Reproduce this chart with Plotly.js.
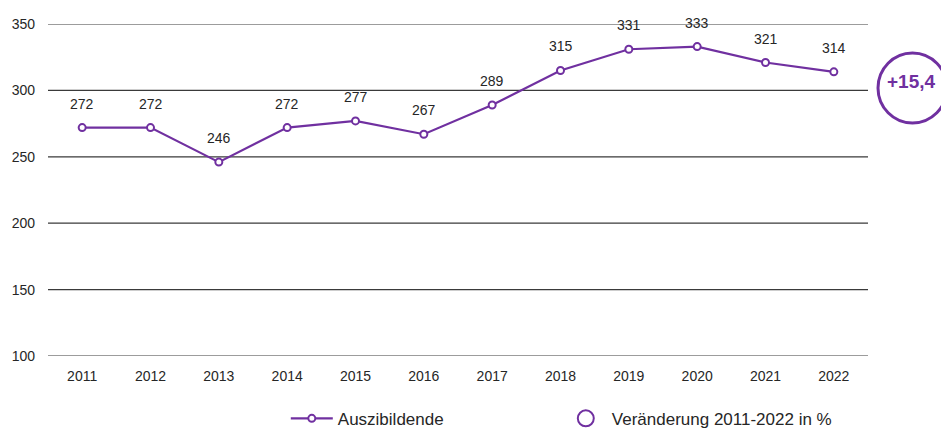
<!DOCTYPE html>
<html>
<head>
<meta charset="utf-8">
<script src="https://cdn.plot.ly/plotly-3.0.1.min.js"></script>
<style>html,body{margin:0;padding:0;background:#fff;}#chart{width:941px;height:430px;}</style>
</head>
<body>
<div id="chart"></div>
<script>
const years = ["2011","2012","2013","2014","2015","2016","2017","2018","2019","2020","2021","2022"];
const azubis = [272,272,246,272,277,267,289,315,331,333,321,314];
const changeLabel = "+15,4";
const seriesName = "Auszibildende";
const changeName = "Veränderung 2011-2022 in %";
const yTicks = [100,150,200,250,300,350];

const purple = "#7030a0";
const font = "'Liberation Sans Narrow', 'Arial Narrow', 'Liberation Sans', Arial, sans-serif";

const traces = [
  {
    x: years, y: azubis, type: "scatter", mode: "lines+markers", name: seriesName,
    line: {color: purple, width: 2.2},
    marker: {color: "#ffffff", size: 7, line: {color: purple, width: 2}},
    cliponaxis: false
  },
  {
    x: [null], y: [null], type: "scatter", mode: "markers", name: changeName,
    marker: {symbol: "circle-open", color: purple, size: 16, line: {color: purple, width: 2}}
  }
];

const annotations = years.map((yr, i) => ({
  x: i, y: azubis[i], xref: "x", yref: "y", text: String(azubis[i]),
  showarrow: false, yshift: 24, font: {family: font, size: 14, color: "#262626"}
}));
annotations.push({
  xref: "paper", yref: "paper", x: 1.0854, xanchor: "right", y: 0.827, yanchor: "middle",
  text: "<b>" + changeLabel + "</b>",
  showarrow: false, font: {family: font, size: 19, color: purple}
});

const gridShapes = yTicks.map(v => ({
  type: "line", xref: "paper", yref: "y", x0: 0, x1: 1, y0: v, y1: v,
  line: {color: "#3a3a3a", width: 1.2}, layer: "below"
}));

const layout = {
  width: 941, height: 430,
  margin: {l: 48, r: 73, t: 24, b: 74, autoexpand: false},
  paper_bgcolor: "#ffffff", plot_bgcolor: "#ffffff",
  font: {family: font, size: 14, color: "#262626"},
  showlegend: true,
  legend: {orientation: "h", x: 0.29, xanchor: "left", y: -0.135, yanchor: "top",
           itemwidth: 42, entrywidth: 217, entrywidthmode: "pixels",
           font: {family: font, size: 17, color: "#262626"}},
  xaxis: {type: "category", range: [-0.5, 11.5], showgrid: false, zeroline: false,
          showline: false, ticks: "", ticklabelstandoff: 10,
          tickfont: {family: font, size: 14, color: "#262626"}},
  yaxis: {range: [100, 350], tickvals: yTicks, showgrid: false,
          zeroline: false, showline: false, ticks: "", ticklabelstandoff: 12,
          tickfont: {family: font, size: 14, color: "#262626"}},
  shapes: gridShapes.concat([{
    type: "circle", xref: "paper", yref: "paper",
    x0: 1.0122, x1: 1.0963, y0: 0.7018, y1: 0.9127,
    line: {color: purple, width: 3}
  }]),
  annotations: annotations
};

Plotly.newPlot("chart", traces, layout, {staticPlot: true, displayModeBar: false});
</script>
</body>
</html>
